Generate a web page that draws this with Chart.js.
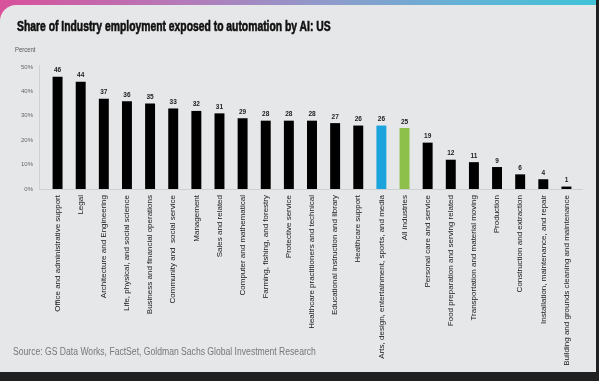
<!DOCTYPE html>
<html>
<head>
<meta charset="utf-8">
<script src="https://cdn.jsdelivr.net/npm/chart.js@4"></script>
<style>
  html, body { margin: 0; padding: 0; }
  body { width: 599px; height: 381px; background: #202020; position: relative; overflow: hidden; font-family: "Liberation Sans", sans-serif; }
  #frame { position: absolute; left: 0; top: 0; width: 596px; height: 372px;
    background: linear-gradient(90deg, #d8519b 0%, #b579b8 30%, #8f9bcb 55%, #64b2d6 78%, #3fc3d8 100%); }
  #card { position: absolute; left: 0; top: 5px; width: 596px; height: 367px; background: #e6e7e9; border-top-left-radius: 16px; }
  #title { position: absolute; left: 17px; top: 17px; font-size: 15px; font-weight: bold; color: #111;
    white-space: nowrap; transform: scaleX(0.69); transform-origin: 0 0; -webkit-text-stroke: 0.6px #111; }
  #unit { position: absolute; left: 15px; top: 46px; font-size: 7px; color: #555; transform: scaleX(0.85); transform-origin: 0 0; }
  #source { position: absolute; left: 13px; top: 346px; font-size: 10px; color: #777; white-space: nowrap; transform: scaleX(0.86); transform-origin: 0 0; }
  #chartBox { position: absolute; left: 0; top: 0; width: 596px; height: 372px; }
</style>
</head>
<body>
<div id="frame"></div>
<div id="card"></div>
<div id="chartBox"><canvas id="chart"></canvas></div>
<div id="title">Share of Industry employment exposed to automation by AI: US</div>
<div id="unit">Percent</div>
<div id="source">Source: GS Data Works, FactSet, Goldman Sachs Global Investment Research</div>
<script>
const industries = [
  'Office and administrative support',
  'Legal',
  'Architecture and Engineering',
  'Life, physical, and social science',
  'Business and financial operations',
  'Community and  social service',
  'Management',
  'Sales and related',
  'Computer and mathematical',
  'Farming, fishing, and forestry',
  'Protective service',
  'Healthcare practitioners and technical',
  'Educational instruction and library',
  'Healthcare support',
  'Arts, design, entertainment, sports, and media',
  'All industries',
  'Personal care and service',
  'Food preparation and serving related',
  'Transportation and material moving',
  'Production',
  'Construction and extraction',
  'Installation, maintenance, and repair',
  'Building and grounds cleaning and maintenance'
];
const exposure = [46, 44, 37, 36, 35, 33, 32, 31, 29, 28, 28, 28, 27, 26, 26, 25, 19, 12, 11, 9, 6, 4, 1];
const yTicks = [0, 10, 20, 30, 40, 50];

const barColors = industries.map(name => {
  if (name.startsWith('Arts')) return '#1ba3dd';
  if (name === 'All industries') return '#8cc04b';
  return '#000000';
});

const fontFamily = '"Liberation Sans", sans-serif';

// value labels on top of bars
const valueLabels = {
  id: 'valueLabels',
  afterDatasetsDraw(chart) {
    const { ctx } = chart;
    const meta = chart.getDatasetMeta(0);
    ctx.save();
    ctx.font = 'bold 6.5px ' + fontFamily;
    ctx.fillStyle = '#222';
    ctx.textAlign = 'center';
    ctx.textBaseline = 'bottom';
    meta.data.forEach((bar, i) => {
      ctx.fillText(exposure[i], bar.x, bar.y - 3);
    });
    ctx.restore();
  }
};

// axis lines, a bit longer than the plot area
const axisLines = {
  id: 'axisLines',
  beforeDatasetsDraw(chart) {
    const { ctx, chartArea } = chart;
    ctx.save();
    ctx.strokeStyle = '#cfd0d2';
    ctx.lineWidth = 1;
    ctx.beginPath();
    ctx.moveTo(39.5, chartArea.top - 2);
    ctx.lineTo(39.5, chartArea.bottom + 0.5);
    ctx.lineTo(chartArea.right + 5, chartArea.bottom + 0.5);
    ctx.stroke();
    ctx.restore();
  }
};

new Chart(document.getElementById('chart'), {
  type: 'bar',
  data: {
    labels: industries,
    datasets: [{
      data: exposure,
      backgroundColor: barColors,
      barPercentage: 0.43,
      categoryPercentage: 1
    }]
  },
  options: {
    responsive: true,
    maintainAspectRatio: false,
    animation: false,
    layout: { padding: { top: 67, left: 12, right: 18, bottom: 0 } },
    plugins: {
      legend: { display: false },
      tooltip: { enabled: false }
    },
    scales: {
      x: {
        grid: { display: false, drawTicks: false },
        border: { display: false },
        afterFit(scale) { scale.height = 183; },
        ticks: {
          autoSkip: false,
          minRotation: 90,
          maxRotation: 90,
          padding: 6,
          color: '#1a1a1a',
          font: { family: fontFamily, size: 8 }
        }
      },
      y: {
        min: 0,
        max: 50,
        afterFit(scale) { scale.width = 34; },
        afterBuildTicks(scale) { scale.ticks = yTicks.map(v => ({ value: v })); },
        grid: { display: false, drawTicks: false },
        border: { display: false },
        ticks: {
          padding: 13,
          color: '#666',
          font: { family: fontFamily, size: 6 },
          callback: v => v + '%'
        }
      }
    }
  },
  plugins: [axisLines, valueLabels]
});
</script>
</body>
</html>
